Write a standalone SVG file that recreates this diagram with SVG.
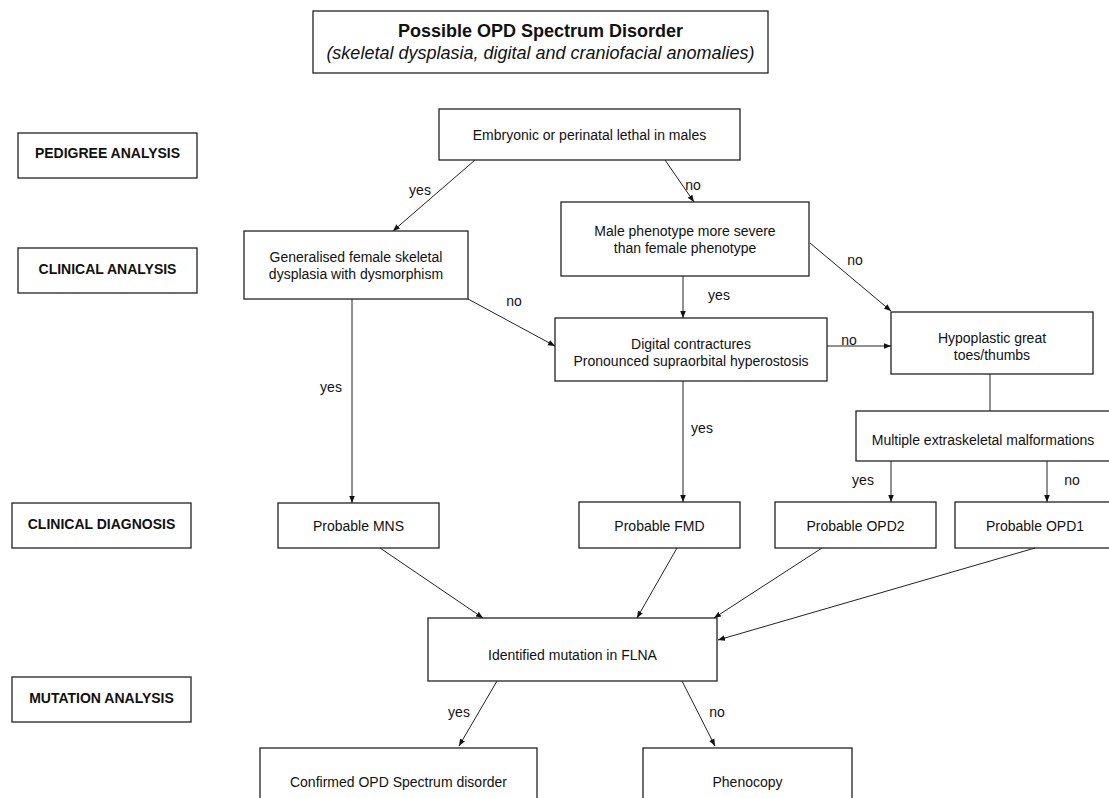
<svg xmlns="http://www.w3.org/2000/svg" width="1109" height="798" viewBox="0 0 1109 798">
<defs>
<marker id="ah" viewBox="0 0 10 10" refX="10" refY="5" markerWidth="7" markerHeight="7" markerUnits="userSpaceOnUse" orient="auto"><path d="M0,1 L10,5 L0,9 z" fill="#111"/></marker>
<style>
.box{fill:#fff;stroke:#222;stroke-width:1.3}
.t{font-family:"Liberation Sans",Arial,Helvetica,sans-serif;font-size:14px;fill:#111;text-anchor:middle}
.b{font-weight:bold}
.c{stroke:#222;stroke-width:1;fill:none}
.a{marker-end:url(#ah)}
</style>
</defs>
<rect width="1109" height="798" fill="#fff"/>
<g id="title">
<rect class="box" x="313" y="11" width="455" height="62"/>
<text class="t b" x="540.5" y="36.5" style="font-size:18px">Possible OPD Spectrum Disorder</text>
<text class="t" x="540.5" y="58.5" style="font-size:18px;font-style:italic">(skeletal dysplasia, digital and craniofacial anomalies)</text>
</g>
<g id="stage-pedigree"><rect class="box" x="18" y="133" width="179" height="45"/><text class="t b" x="107.5" y="158">PEDIGREE ANALYSIS</text></g>
<g id="stage-clinical"><rect class="box" x="18" y="248" width="179" height="45"/><text class="t b" x="107.5" y="274">CLINICAL ANALYSIS</text></g>
<g id="stage-diagnosis"><rect class="box" x="12" y="503" width="179" height="45"/><text class="t b" x="101.5" y="529">CLINICAL DIAGNOSIS</text></g>
<g id="stage-mutation"><rect class="box" x="12" y="677" width="179" height="45"/><text class="t b" x="101.5" y="703">MUTATION ANALYSIS</text></g>
<g id="embryonic"><rect class="box" x="439" y="109" width="301" height="51"/><text class="t" x="589.5" y="140">Embryonic or perinatal lethal in males</text></g>
<g id="generalised"><rect class="box" x="244" y="231" width="224" height="68"/><text class="t" x="356" y="262">Generalised female skeletal</text><text class="t" x="356" y="279">dysplasia with dysmorphism</text></g>
<g id="male"><rect class="box" x="561" y="202" width="248" height="74"/><text class="t" x="685" y="236">Male phenotype more severe</text><text class="t" x="685" y="253">than female phenotype</text></g>
<g id="digital"><rect class="box" x="555" y="318" width="272" height="63"/><text class="t" x="691" y="349">Digital contractures</text><text class="t" x="691" y="366">Pronounced supraorbital hyperostosis</text></g>
<g id="hypoplastic"><rect class="box" x="891" y="312" width="202" height="62"/><text class="t" x="992" y="343">Hypoplastic great</text><text class="t" x="992" y="360">toes/thumbs</text></g>
<g id="multiple"><rect class="box" x="856" y="411" width="262" height="50"/><text class="t" x="983" y="445">Multiple extraskeletal malformations</text></g>
<g id="mns"><rect class="box" x="278" y="503" width="161" height="45"/><text class="t" x="358.5" y="531">Probable MNS</text></g>
<g id="fmd"><rect class="box" x="579" y="502" width="161" height="46"/><text class="t" x="659.5" y="531">Probable FMD</text></g>
<g id="opd2"><rect class="box" x="775" y="502" width="161" height="46"/><text class="t" x="855.5" y="531">Probable OPD2</text></g>
<g id="opd1"><rect class="box" x="955" y="502" width="162" height="46"/><text class="t" x="1035" y="531">Probable OPD1</text></g>
<g id="flna"><rect class="box" x="428" y="618" width="289" height="63"/><text class="t" x="572.5" y="660">Identified mutation in FLNA</text></g>
<g id="confirmed"><rect class="box" x="260" y="748" width="277" height="60"/><text class="t" x="398.5" y="787">Confirmed OPD Spectrum disorder</text></g>
<g id="phenocopy"><rect class="box" x="643" y="748" width="209" height="60"/><text class="t" x="747.5" y="787">Phenocopy</text></g>
<g id="connectors">
<line class="c a" x1="475" y1="160" x2="393" y2="231"/>
<line class="c a" x1="665" y1="160" x2="694" y2="202"/>
<line class="c a" x1="468" y1="299" x2="555" y2="346"/>
<line class="c a" x1="683" y1="276" x2="683" y2="318"/>
<line class="c a" x1="810" y1="243" x2="891" y2="311"/>
<line class="c a" x1="827" y1="346" x2="891" y2="346"/>
<line class="c" x1="990" y1="374" x2="990" y2="411"/>
<line class="c a" x1="352" y1="299" x2="352" y2="503"/>
<line class="c a" x1="683" y1="381" x2="683" y2="502"/>
<line class="c a" x1="891" y1="461" x2="891" y2="502"/>
<line class="c a" x1="1047" y1="461" x2="1047" y2="502"/>
<line class="c a" x1="380" y1="548" x2="483" y2="618"/>
<line class="c a" x1="677" y1="548" x2="637" y2="618"/>
<line class="c a" x1="822" y1="548" x2="714" y2="618"/>
<line class="c a" x1="1035" y1="548" x2="718" y2="640"/>
<line class="c a" x1="497" y1="681" x2="459" y2="746"/>
<line class="c a" x1="682" y1="681" x2="715" y2="746"/>
<g class="t">
<text x="420" y="195">yes</text>
<text x="693" y="190">no</text>
<text x="514" y="306">no</text>
<text x="719" y="300">yes</text>
<text x="855" y="265">no</text>
<text x="849" y="345">no</text>
<text x="331" y="392">yes</text>
<text x="702" y="433">yes</text>
<text x="863" y="485">yes</text>
<text x="1072" y="485">no</text>
<text x="459" y="717">yes</text>
<text x="717" y="717">no</text>
</g>
</g>
</svg>
